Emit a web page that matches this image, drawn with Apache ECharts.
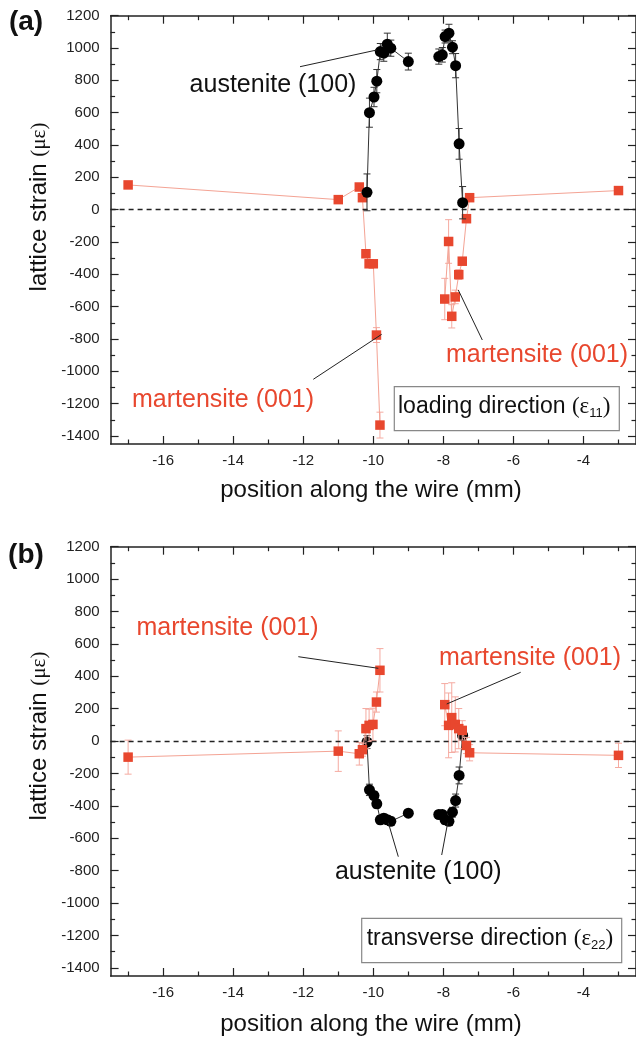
<!DOCTYPE html>
<html><head><meta charset="utf-8">
<script src="https://cdn.jsdelivr.net/npm/echarts@6/dist/echarts.min.js"></script>
<style>html,body{margin:0;padding:0;background:#fff}#c{width:636px;height:1038px}</style>
</head><body><div id="c"></div>
<script>
// ---------- tick labels ----------
const xTicksMajor = [-16, -14, -12, -10, -8, -6, -4];
const xTicksMinor = [-17, -15, -13, -11, -9, -7, -5, -3];
const yTicksMajor = [-1400, -1200, -1000, -800, -600, -400, -200, 0, 200, 400, 600, 800, 1000, 1200];
const yTicksMinor = [-1300, -1100, -900, -700, -500, -300, -100, 100, 300, 500, 700, 900, 1100];

// ---------- (a) loading direction ----------
const austA_left_x = [-10.18, -10.11, -9.98, -9.90, -9.80, -9.70, -9.60, -9.50, -9.00];
const austA_left_y = [107, 600, 697, 795, 978, 968, 1024, 999, 916];
const austA_left_e = [114, 90, 60, 72, 50, 50, 68, 50, 52];
const austA_right_x = [-8.13, -8.03, -7.95, -7.84, -7.74, -7.65, -7.55, -7.45];
const austA_right_y = [947, 958, 1071, 1092, 1005, 891, 407, 43];
const austA_right_e = [47, 45, 40, 55, 40, 75, 95, 100];
const martA_left_x = [-17.0, -11.0, -10.40, -10.31, -10.21, -10.12, -10.00, -9.91, -9.81];
const martA_left_y = [153, 62, 140, 74, -273, -335, -335, -776, -1333];
const martA_left_e = [10, 15, 15, 15, 20, 20, 20, 46, 80];
const martA_right_x = [-7.96, -7.85, -7.76, -7.66, -7.56, -7.46, -7.34, -7.25, -3.0];
const martA_right_y = [-553, -197, -660, -540, -402, -319, -56, 74, 118];
const martA_right_e = [128, 135, 72, 42, 30, 20, 20, 20, 10];

// ---------- (b) transverse direction ----------
const austB_left_x = [-10.18, -10.11, -9.98, -9.90, -9.80, -9.70, -9.60, -9.50, -9.00];
const austB_left_y = [-6, -301, -336, -387, -486, -476, -486, -495, -445];
const austB_left_e = [40, 35, 25, 25, 25, 25, 25, 25, 20];
const austB_right_x = [-8.13, -8.03, -7.95, -7.84, -7.74, -7.65, -7.55, -7.45];
const austB_right_y = [-453, -453, -486, -495, -439, -367, -212, 35];
const austB_right_e = [20, 20, 25, 25, 30, 40, 52, 30];
const martB_left_x = [-17.0, -11.0, -10.40, -10.31, -10.21, -10.12, -10.01, -9.91, -9.81];
const martB_left_y = [-99, -62, -78, -53, 77, 97, 103, 241, 437];
const martB_left_e = [105, 125, 70, 40, 124, 100, 100, 62, 134];
const martB_right_x = [-7.96, -7.85, -7.76, -7.66, -7.56, -7.46, -7.34, -7.25, -3.0];
const martB_right_y = [225, 97, 145, 103, 77, 66, -27, -72, -88];
const martB_right_e = [130, 200, 215, 170, 124, 60, 50, 50, 75];

// ---------- styling / layout ----------
const FONT = 'Arial, "Liberation Sans", Helvetica, sans-serif';
const SERIF = '"Liberation Serif", "Times New Roman", serif';
const RED = '#e8472e', RED_LINE = '#f4a394', RED_ERR = '#f5aaa0';
const BLK = '#000', BLK_LINE = '#333';
const AX = '#222';
const X_MIN = -17.5, X_MAX = -2.5, Y_MIN = -1450, Y_MAX = 1200;
const grids = [
  { left: 110.6, top: 15.7, width: 527.1, height: 428.3 },
  { left: 110.6, top: 546.7, width: 527.1, height: 429.3 }
];

const zip = (xs, ys, es) => xs.map((x, i) => [x, ys[i], es[i]]);
const plain = v => String(v);

const xAxes = [], yAxes = [];
grids.forEach((g, gi) => {
  const lineOn = { show: true, onZero: false, lineStyle: { color: AX, width: 1.5 } };
  const lineOff = { show: false, onZero: false };
  const tickStyle = { color: AX, width: 1.2 };
  [['bottom', true], ['top', false]].forEach(([pos, lab]) => {
    xAxes.push({ gridIndex: gi, type: 'value', min: X_MIN, max: X_MAX, position: pos,
      axisLine: lineOn, splitLine: { show: false },
      axisTick: { inside: true, length: 8, customValues: xTicksMajor, lineStyle: tickStyle },
      axisLabel: lab ? { customValues: xTicksMajor, formatter: plain, fontSize: 15, color: AX, fontFamily: FONT, margin: 9 } : { show: false } });
    xAxes.push({ gridIndex: gi, type: 'value', min: X_MIN, max: X_MAX, position: pos,
      axisLine: lineOff, splitLine: { show: false },
      axisTick: { inside: true, length: 4.5, customValues: xTicksMinor, lineStyle: tickStyle },
      axisLabel: { show: false } });
  });
  [['left', true], ['right', false]].forEach(([pos, lab]) => {
    yAxes.push({ gridIndex: gi, type: 'value', min: Y_MIN, max: Y_MAX, position: pos,
      axisLine: lineOn, splitLine: { show: false },
      axisTick: { inside: true, length: 8, customValues: yTicksMajor, lineStyle: tickStyle },
      axisLabel: lab ? { customValues: yTicksMajor, formatter: plain, fontSize: 15, color: AX, fontFamily: FONT, margin: 11 } : { show: false } });
    yAxes.push({ gridIndex: gi, type: 'value', min: Y_MIN, max: Y_MAX, position: pos,
      axisLine: lineOff, splitLine: { show: false },
      axisTick: { inside: true, length: 4.5, customValues: yTicksMinor, lineStyle: tickStyle },
      axisLabel: { show: false } });
  });
});

function errRender(color) {
  return function (params, api) {
    const x = api.value(0), y = api.value(1), e = api.value(2);
    const p1 = api.coord([x, y + e]), p2 = api.coord([x, y - e]);
    const w = 3.5, st = { stroke: color, lineWidth: 1 };
    return { type: 'group', children: [
      { type: 'line', shape: { x1: p1[0], y1: p1[1], x2: p2[0], y2: p2[1] }, style: st },
      { type: 'line', shape: { x1: p1[0] - w, y1: p1[1], x2: p1[0] + w, y2: p1[1] }, style: st },
      { type: 'line', shape: { x1: p2[0] - w, y1: p2[1], x2: p2[0] + w, y2: p2[1] }, style: st }
    ] };
  };
}

const series = [];
function addSet(gi, xs, ys, es, kind, z) {
  const data = zip(xs, ys, es);
  const red = kind === 'mart';
  series.push({ type: 'custom', xAxisIndex: gi * 4, yAxisIndex: gi * 4, z: z,
    renderItem: errRender(red ? RED_ERR : BLK_LINE), data: data, encode: { x: 0, y: 1 }, silent: true });
  series.push({ type: 'line', xAxisIndex: gi * 4, yAxisIndex: gi * 4, z: z + 1,
    data: data.map(d => [d[0], d[1]]),
    symbol: red ? 'rect' : 'circle', symbolSize: red ? 9.5 : 11,
    itemStyle: { color: red ? RED : BLK, borderWidth: 0 },
    lineStyle: { color: red ? RED_LINE : BLK_LINE, width: 1 }, silent: true });
}
// zero dashed lines
[0, 1].forEach(gi => {
  series.push({ type: 'line', xAxisIndex: gi * 4, yAxisIndex: gi * 4, data: [], z: 1,
    markLine: { silent: true, symbol: 'none', label: { show: false },
      lineStyle: { type: [5, 4], color: '#222', width: 1.4 }, data: [{ yAxis: 0 }] } });
});
// (a): black on top
addSet(0, martA_left_x, martA_left_y, martA_left_e, 'mart', 2);
addSet(0, martA_right_x, martA_right_y, martA_right_e, 'mart', 2);
addSet(0, austA_left_x, austA_left_y, austA_left_e, 'aust', 4);
addSet(0, austA_right_x, austA_right_y, austA_right_e, 'aust', 4);
// (b): red on top
addSet(1, austB_left_x, austB_left_y, austB_left_e, 'aust', 2);
addSet(1, austB_right_x, austB_right_y, austB_right_e, 'aust', 2);
addSet(1, martB_left_x, martB_left_y, martB_left_e, 'mart', 4);
addSet(1, martB_right_x, martB_right_y, martB_right_e, 'mart', 4);

// ---------- annotations ----------
const gfx = [];
function txt(t, x, y, color, size, bold) {
  gfx.push({ type: 'text', x: x, y: y, z: 100,
    style: { text: t, fill: color, font: (bold ? 'bold ' : '') + size + 'px ' + FONT, align: 'center', verticalAlign: 'middle' } });
}
function seg(x1, y1, x2, y2) {
  gfx.push({ type: 'line', z: 100, shape: { x1, y1, x2, y2 }, style: { stroke: '#222', lineWidth: 1 } });
}
// panel letters
txt('(a)', 26, 22, '#111', 28, true);
txt('(b)', 26, 555, '#111', 28, true);
// axis titles
[[490, 207], [1024, 736]].forEach(([xy, yy]) => {
  txt('position along the wire (mm)', 371, xy, '#111', 24);
  gfx.push({ type: 'text', x: 39, y: yy, rotation: Math.PI / 2, z: 100,
    style: { text: 'lattice strain {g|(με)}', fill: '#111', font: '24px ' + FONT, align: 'center', verticalAlign: 'middle',
      rich: { g: { fontFamily: SERIF, fontSize: 21, fill: '#111' } } } });
});
// (a)
txt('austenite (100)', 273, 85, '#111', 25); seg(300, 66.7, 376.7, 50);
txt('martensite (001)', 223, 400, RED, 25); seg(313.3, 379.3, 381.7, 334.3);
txt('martensite (001)', 537, 355, RED, 25); seg(458.3, 290, 482.3, 340);
const boxRich = { g: { fontFamily: SERIF, fontSize: 23, lineHeight: 26 }, s: { fontSize: 13, fontFamily: FONT, lineHeight: 12, verticalAlign: 'bottom' } };
gfx.push({ type: 'rect', z: 99, shape: { x: 394.3, y: 386.7, width: 225, height: 44 },
  style: { fill: '#fff', stroke: '#888', lineWidth: 1.2 } });
gfx.push({ type: 'text', x: 398, y: 407, z: 100,
  style: { text: 'loading direction {g|(ε}{s|11}{g|)}', fill: '#111', font: '23px ' + FONT, align: 'left', verticalAlign: 'middle', lineHeight: 26, rich: boxRich } });
// (b)
txt('martensite (001)', 227.5, 628.3, RED, 25); seg(298.3, 656.7, 378.3, 668.3);
txt('martensite (001)', 530, 658.3, RED, 25); seg(520.7, 672.3, 446.7, 704);
txt('austenite (100)', 418.3, 871.7, '#111', 25); seg(398.3, 856.7, 388.3, 822.7); seg(441.7, 855, 447.7, 822.7);
gfx.push({ type: 'rect', z: 99, shape: { x: 361.7, y: 918.3, width: 260, height: 44.4 },
  style: { fill: '#fff', stroke: '#888', lineWidth: 1.2 } });
gfx.push({ type: 'text', x: 366.7, y: 939, z: 100,
  style: { text: 'transverse direction {g|(ε}{s|22}{g|)}', fill: '#111', font: '23px ' + FONT, align: 'left', verticalAlign: 'middle', lineHeight: 26, rich: boxRich } });

const chart = echarts.init(document.getElementById('c'), null, { renderer: 'canvas' });
chart.setOption({
  animation: false,
  backgroundColor: '#fff',
  grid: grids,
  xAxis: xAxes,
  yAxis: yAxes,
  series: series,
  graphic: gfx
});
</script></body></html>
